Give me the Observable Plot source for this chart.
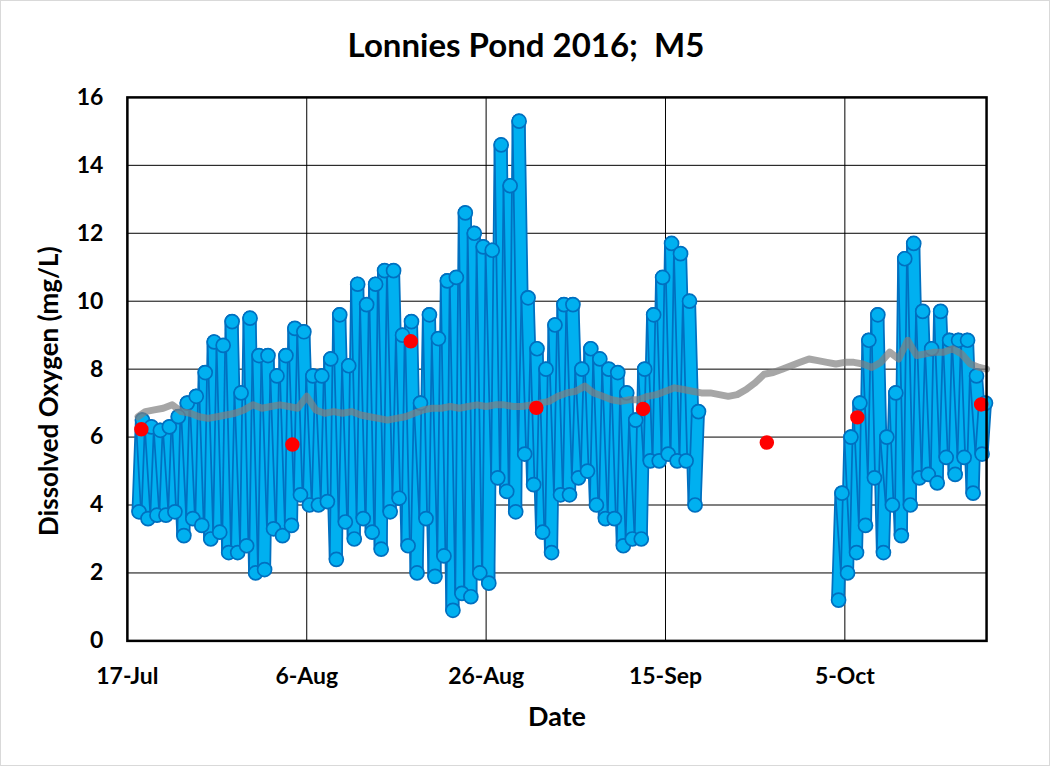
<!DOCTYPE html>
<html>
<head>
<meta charset="utf-8">
<script src="https://cdn.jsdelivr.net/npm/d3@7"></script>
<script src="https://cdn.jsdelivr.net/npm/@observablehq/plot@0.6"></script>
<style>
  html, body { margin: 0; padding: 0; background: #fff; }
  #chart { position: relative; width: 1048px; height: 764px; border: 1px solid #d9d9d9; overflow: hidden; font-family: Lato, "Open Sans", sans-serif; }
  #title { position: absolute; top: 23px; left: 0; width: 1050px; text-align: center; font-size: 33px; font-weight: bold; color: #000; white-space: pre; }
  #plot { position: absolute; left: -1px; top: -1px; }
</style>
</head>
<body>
<div id="chart">
  <div id="plot"></div>
  <div id="title">Lonnies Pond 2016;  M5</div>
</div>
<script>
// ---- Data ----
const startDate = "2016-07-17";
const endDayOffset = 95.8;
const xTickDates = ["2016-07-17", "2016-08-06", "2016-08-26", "2016-09-15", "2016-10-05"];
const yTicks = [0, 2, 4, 6, 8, 10, 12, 14, 16];

// Continuous sonde DO: day offset from 17-Jul, daily minimum and maximum (mg/L)
const sondeDays = [1,2,3,4,5,6,7,8,9,10,11,12,13,14,15,16,17,18,19,20,21,22,23,24,25,26,27,28,29,30,31,32,33,34,35,36,37,38,39,40,41,42,43,44,45,46,47,48,49,50,51,52,53,54,55,56,57,58,59,60,61,62,63,
                   79,80,81,82,83,84,85,86,87,88,89,90,91,92,93,94,95];
const sondeMin = [3.8,3.6,3.7,3.7,3.8,3.1,3.6,3.4,3.0,3.2,2.6,2.6,2.8,2.0,2.1,3.3,3.1,3.4,4.3,4.0,4.0,4.1,2.4,3.5,3.0,3.6,3.2,2.7,3.8,4.2,2.8,2.0,3.6,1.9,2.5,0.9,1.4,1.3,2.0,1.7,4.8,4.4,3.8,5.5,4.6,3.2,2.6,4.3,4.3,4.8,5.0,4.0,3.6,3.6,2.8,3.0,3.0,5.3,5.3,5.5,5.3,5.3,4.0,
                  1.2,2.0,2.6,3.4,4.8,2.6,4.0,3.1,4.0,4.8,4.9,4.65,5.4,4.9,5.4,4.35,5.5];
const sondeMax = [6.5,6.3,6.2,6.3,6.6,7.0,7.2,7.9,8.8,8.7,9.4,7.3,9.5,8.4,8.4,7.8,8.4,9.2,9.1,7.8,7.8,8.3,9.6,8.1,10.5,9.9,10.5,10.9,10.9,9.0,9.4,7.0,9.6,8.9,10.6,10.7,12.6,12.0,11.6,11.5,14.6,13.4,15.3,10.1,8.6,8.0,9.3,9.9,9.9,8.0,8.6,8.3,8.0,7.9,7.3,6.5,8.0,9.6,10.7,11.7,11.4,10.0,6.75,
                  4.35,6.0,7.0,8.85,9.6,6.0,7.3,11.25,11.7,9.7,8.6,9.7,8.85,8.85,8.85,7.8,7.0];

// Gray line (second logger), day offset and value
const grayDays = [1.2,2,3,4,5,6,7,8,9,10,11,12,13,14,15,16,17,18,19,20,21,22,23,24,25,26,27,28,29,30,31,32,33,34,35,36,37,38,39,40,41,42,43,44,45,46,47,48,49,50,51,52,53,54,55,56,57,58,59,60,61,62,63,64,65,66,67,68,69,70,71,72,73,74,75,76,77,78,79,80,81,82,83,84,85,86,87,88,89,90,91,92,93,94,95,95.8];
const grayValues = [6.6,6.75,6.8,6.85,6.95,6.75,6.7,6.6,6.55,6.6,6.65,6.7,6.8,6.95,6.85,6.9,6.95,6.9,6.85,7.2,6.8,6.7,6.75,6.7,6.75,6.65,6.6,6.55,6.5,6.55,6.6,6.7,6.8,6.85,6.85,6.9,6.85,6.9,6.95,6.9,6.95,6.95,6.9,6.9,6.95,7.0,7.05,7.2,7.3,7.35,7.5,7.3,7.2,7.1,7.05,7.1,7.1,7.2,7.25,7.35,7.45,7.4,7.35,7.3,7.3,7.25,7.2,7.25,7.4,7.6,7.85,7.9,8.0,8.1,8.2,8.3,8.25,8.2,8.15,8.2,8.2,8.15,8.05,8.2,8.5,8.3,8.85,8.4,8.45,8.5,8.5,8.6,8.45,8.15,8.05,8.0];

// Grab samples (red)
const grabDays = [1.56, 18.4, 31.6, 45.6, 57.5, 71.3, 81.4, 95.2];
const grabValues = [6.23, 5.78, 8.82, 6.86, 6.83, 5.84, 6.58, 6.96];

// ---- Build tables ----
const DAY = 86400000;
const t0 = new Date(startDate + "T00:00:00Z").getTime();
const toDate = (d) => new Date(t0 + d * DAY);

const sonde = [];
sondeDays.forEach((d, i) => {
  const seg = d < 70 ? 0 : 1;
  sonde.push({t: toDate(d + 0.3), v: sondeMin[i], seg});
  sonde.push({t: toDate(d + 0.68), v: sondeMax[i], seg});
});
// consecutive readings joined into segments (rising by day, falling by night)
const segs = [];
for (let i = 0; i < sonde.length - 1; i++) {
  if (sonde[i].seg !== sonde[i + 1].seg) continue;
  segs.push({t1: sonde[i].t, v1: sonde[i].v, t2: sonde[i + 1].t, v2: sonde[i + 1].v});
}
const gray = grayDays.map((d, i) => ({t: toDate(d), v: grayValues[i]}));
const grab = grabDays.map((d, i) => ({t: toDate(d), v: grabValues[i]}));
const xTicks = xTickDates.map(s => new Date(s + "T00:00:00Z"));

const fmt = d3.utcFormat("%-d-%b");
const font = "Lato, 'Open Sans', sans-serif";

// layered rendering: each segment drawn with dark edge then light body, in time order
function layered(index, scales, values, dimensions, context, next) {
  const g = d3.create("svg:g");
  for (const i of index) {
    const s = segs[i];
    const d = `M${scales.x(s.t1)},${scales.y(s.v1)}L${scales.x(s.t2)},${scales.y(s.v2)}`;
    g.append("path").attr("d", d).attr("fill", "none").attr("stroke", "#0070C0").attr("stroke-width", 14).attr("stroke-linecap", "round");
    g.append("path").attr("d", d).attr("fill", "none").attr("stroke", "#00B0F0").attr("stroke-width", 10.5).attr("stroke-linecap", "round");
  }
  return g.node();
}

const chart = Plot.plot({
  width: 1050,
  height: 766,
  marginLeft: 127,
  marginRight: 63,
  marginTop: 97,
  marginBottom: 125,
  style: {fontFamily: font, fontWeight: "bold", fontSize: "23px", color: "#000", background: "transparent"},
  x: {type: "utc", domain: [toDate(0), toDate(endDayOffset)]},
  y: {domain: [0, 16]},
  marks: [
    Plot.gridY(yTicks, {stroke: "#000", strokeOpacity: 1, strokeWidth: 1}),
    Plot.gridX(xTicks, {stroke: "#000", strokeOpacity: 1, strokeWidth: 1}),
    Plot.link(segs, {x1: "t1", y1: "v1", x2: "t2", y2: "v2", stroke: "#00B0F0", strokeWidth: 10, render: layered}),
    Plot.dot(sonde, {x: "t", y: "v", r: 7, fill: "#00B0F0", stroke: "#0070C0", strokeWidth: 1.7}),
    Plot.lineY(gray, {x: "t", y: "v", stroke: "#808080", strokeOpacity: 0.7, strokeWidth: 7, curve: "linear"}),
    Plot.dot(grab, {x: "t", y: "v", r: 6.5, fill: "#FF0000", stroke: "#FF0000"}),
    Plot.frame({stroke: "#000", strokeWidth: 2.5}),
    Plot.axisY(yTicks, {tickSize: 0, tickPadding: 24, label: null, fontSize: 23, fontWeight: "bold"}),
    Plot.axisX(xTicks, {tickSize: 0, tickPadding: 27, label: null, tickFormat: fmt, fontSize: 23, fontWeight: "bold"}),
    Plot.text(["Date"], {frameAnchor: "bottom", dy: 85, fontSize: 27, fontWeight: "bold", fill: "#000"}),
    Plot.text(["Dissolved Oxygen (mg/L)"], {frameAnchor: "left", textAnchor: "middle", dx: -78, dy: 22, rotate: -90, fontSize: 26, fontWeight: "bold", fill: "#000"})
  ]
});
document.getElementById("plot").appendChild(chart);
</script>
</body>
</html>
